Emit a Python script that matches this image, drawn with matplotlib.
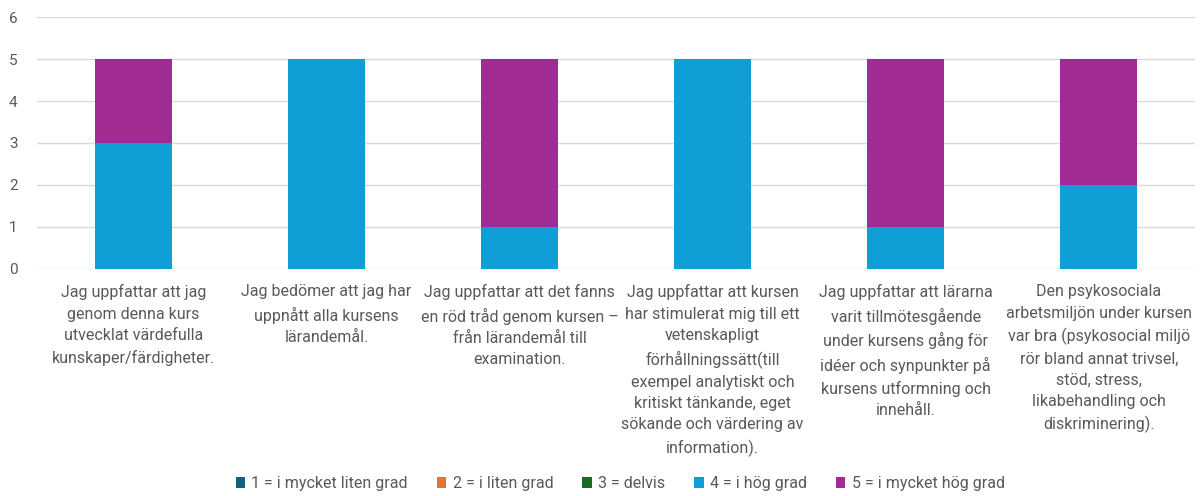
import matplotlib
matplotlib.use("Agg")
import matplotlib.pyplot as plt
import numpy as np

categories = [
    "Jag uppfattar att jag\ngenom denna kurs\nutvecklat värdefulla\nkunskaper/färdigheter.",
    "Jag bedömer att jag har\nuppnått alla kursens\nlärandemål.",
    "Jag uppfattar att det fanns\nen röd tråd genom kursen –\nfrån lärandemål till\nexamination.",
    "Jag uppfattar att kursen\nhar stimulerat mig till ett\nvetenskapligt\nförhållningssätt(till\nexempel analytiskt och\nkritiskt tänkande, eget\nsökande och värdering av\ninformation).",
    "Jag uppfattar att lärarna\nvarit tillmötesgående\nunder kursens gång för\nidéer och synpunkter på\nkursens utformning och\ninnehåll.",
    "Den psykosociala\narbetsmiljön under kursen\nvar bra (psykosocial miljö\nrör bland annat trivsel,\nstöd, stress,\nlikabehandling och\ndiskriminering).",
]

series_names = [
    "1 = i mycket liten grad",
    "2 = i liten grad",
    "3 = delvis",
    "4 = i hög grad",
    "5 = i mycket hög grad",
]
s1 = [0, 0, 0, 0, 0, 0]
s2 = [0, 0, 0, 0, 0, 0]
s3 = [0, 0, 0, 0, 0, 0]
s4 = [3, 5, 1, 5, 1, 2]
s5 = [2, 0, 4, 0, 4, 3]
colors = ["#156082", "#E97132", "#196B24", "#0F9ED5", "#A02B93"]

text_col = "#595959"
plt.rcParams["font.family"] = ["Roboto", "DejaVu Sans"]

fig = plt.figure(figsize=(12.04, 4.96), dpi=100)
ax = fig.add_axes([0.0307, 0.4577, 0.962, 0.508])

x = np.arange(len(categories))
bottom = np.zeros(len(categories))
handles = []
for name, vals, c in zip(series_names, [s1, s2, s3, s4, s5], colors):
    b = ax.bar(x, vals, 0.4, bottom=bottom, color=c, label=name, zorder=3)
    bottom += np.array(vals)
    handles.append(b)

ax.set_xlim(-0.5, 5.5)
ax.set_ylim(0, 6)
ax.set_yticks(range(7))
ax.yaxis.grid(True, color="#d9d9d9", linewidth=1, zorder=0)
for s in ax.spines.values():
    s.set_visible(False)
ax.tick_params(axis="both", length=0, colors=text_col, labelsize=11)
ax.tick_params(axis="y", pad=14)
ax.set_xticks(x)
ax.set_xticklabels(categories, fontsize=11.5, color=text_col, linespacing=1.53)
ax.tick_params(axis="x", pad=11)

fig.legend(handles=handles, labels=series_names, loc="center", bbox_to_anchor=(0.515, 0.025),
           ncol=5, frameon=False, fontsize=11.5, labelcolor=text_col,
           handlelength=0.6, handleheight=0.6, handletextpad=0.4, columnspacing=1.8)

fig.savefig("out.png", dpi=100)
